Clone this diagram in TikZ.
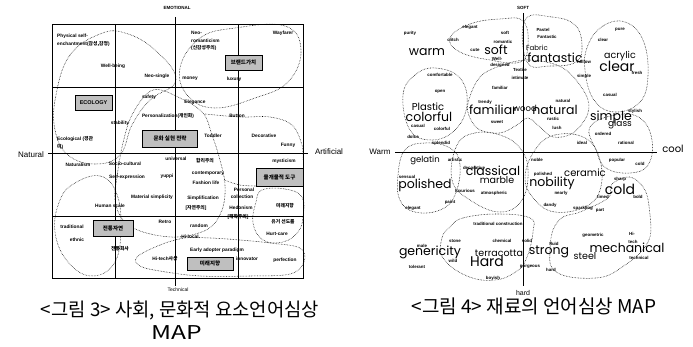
\documentclass[tikz,border=0pt]{standalone}
\usepackage{fontspec}
\setmainfont{Liberation Sans}
\newfontfamily\kr{Noto Sans CJK KR}
\newfontfamily\geo{Poppins}
\tikzset{
  lt/.style={inner sep=0pt,font=\fontsize{4.8}{5.4}\selectfont\bfseries},
  rs/.style={inner sep=0pt,font=\fontsize{4.4}{4.8}\selectfont\bfseries},
  big/.style={inner sep=0pt,font=\geo\fontsize{12.5}{12.5}\selectfont},
  mid/.style={inner sep=0pt,font=\geo\fontsize{8.5}{8.5}\selectfont},
  axl/.style={inner sep=0pt,font=\fontsize{8}{8}\selectfont},
  axs/.style={inner sep=0pt,font=\fontsize{4.5}{4.5}\selectfont\bfseries},
  captxt/.style={inner sep=0pt,font=\kr\fontsize{19}{19}\selectfont},
  shadebox/.style={draw,line width=0.7pt,fill=black!25,inner sep=0pt,font=\kr\fontsize{5.5}{5.5}\selectfont\bfseries},
  blob/.style={draw,densely dotted,line width=0.55pt},
  gridline/.style={line width=0.6pt}
}
\begin{document}
\begin{tikzpicture}[x=1pt,y=-1pt]
\useasboundingbox (0,0) rectangle (693,347);
\fill[white] (0,0) rectangle (693,347);
% ================= LEFT FIGURE =================
\draw[gridline] (52,24) rectangle (303,278);
\draw[gridline] (115,24) -- (115,278);
\draw[gridline] (238,24) -- (238,278);
\draw[gridline] (52,87) -- (303,87);
\draw[gridline] (52,216) -- (303,216);
\coordinate (vt) at (175,17);
\coordinate (vb) at (175,286);
\coordinate (hl) at (48,153);
\coordinate (hr) at (308,153);
\draw[gridline] (vt) -- (vb);
\draw[gridline] (hl) -- (hr);
\node[axs] (emo) at (177,8) {EMOTIONAL};
\node[axs,font=\fontsize{5}{5}\selectfont] (tec) at (178,290) {Technical};
\node[axl] (nat) at (31,155) {Natural};
\node[axl] (art) at (329,152) {Artificial};
% blobs
\draw[blob] plot[smooth cycle,tension=0.7] coordinates {(56,95) (70,55) (100,34) (125,33) (155,50) (176,80) (150,100) (132,125) (120,155) (95,164) (68,155) (55,130)};
\draw[blob] plot[smooth cycle,tension=0.7] coordinates {(180,68) (200,38) (235,28) (285,26) (301,50) (288,82) (255,98) (215,108) (188,96)};
\draw[blob] plot[smooth cycle,tension=0.6] coordinates {(153,90) (180,98) (203,113) (212,135) (220,160) (225,185) (222,210) (208,229) (177,237) (143,232) (123,220) (115,200) (117,177) (123,143) (133,113)};
\draw[blob] plot[smooth,tension=0.6] coordinates {(205,114) (240,117) (270,117) (292,125) (302,145) (303,160)};
\draw[blob] plot[smooth,tension=0.6] coordinates {(224,180) (240,185) (256,186)};
\draw[blob] plot[smooth cycle,tension=0.7] coordinates {(262,190) (285,189) (302,197) (303,217) (298,232) (283,242) (263,240) (253,223) (256,202)};
\draw[blob] plot[smooth cycle,tension=0.7] coordinates {(75,183) (100,176) (116,192) (121,225) (115,262) (92,276) (68,262) (55,232) (60,200)};
\draw[blob] plot[smooth cycle,tension=0.6] coordinates {(137,257) (160,245) (185,238) (210,238) (240,240) (270,243) (300,248) (304,262) (290,274) (250,276) (200,276) (160,271) (140,266)};
% labels
\node[lt,anchor=west] (p1) at (57,36) {Physical self-};
\node[lt,anchor=west] (p2) at (57,44) {enchantment({\kr 감성,감정})};
\node[lt] (wb) at (113,66) {Well-being};
\node[lt] (ns) at (157,76) {Neo-single};
\node[lt,anchor=west] (nr1) at (191,33) {Neo-};
\node[lt,anchor=west] (nr2) at (191,41) {romanticism};
\node[lt,anchor=west] (nr3) at (191,48) {({\kr 신감성주의})};
\node[lt] (wf) at (283,33) {Wayfarer};
\node[shadebox,minimum width=37pt,minimum height=15pt] (bv) at (243.5,62.5) {브랜드가치};
\node[lt] (mo) at (190,79) {money};
\node[lt] (lu) at (234,79) {luxury};
\node[shadebox,minimum width=37pt,minimum height=15pt,font=\fontsize{5.5}{5.5}\selectfont\bfseries] (eco) at (93.5,102.5) {ECOLOGY};
\node[lt] (sa) at (149,97) {safety};
\node[lt] (el) at (195,102) {Elegance};
\node[lt] (pe) at (168,116) {Personalization({\kr 개인화})};
\node[lt] (bu) at (237,116) {Button};
\node[lt] (st) at (120,123) {stability};
\node[lt,anchor=west] (ec1) at (57,139) {Ecological ({\kr 경관}};
\node[lt,anchor=west] (ec2) at (57,147) {{\kr 미})};
\node[shadebox,minimum width=55pt,minimum height=17pt] (cs) at (170,138.5) {문화 실현 전략};
\node[lt] (td) at (213,136) {Toddler};
\node[lt] (de) at (264,136) {Decorative};
\node[lt] (fu) at (288,145) {Funny};
\node[lt] (na) at (78,165) {Naturalism};
\node[lt] (sc) at (125,164) {Socio-cultural};
\node[lt] (un) at (176,159) {universal};
\node[lt] (ha) at (205,161) {{\kr 합리주의}};
\node[lt] (my) at (284,161) {mysticism};
\node[lt] (se) at (127,177) {Self-expression};
\node[lt] (yu) at (167,176) {yuppi};
\node[lt] (cf) at (208,173) {contemporary};
\node[lt] (fl) at (206,183) {Fashion life};
\node[shadebox,minimum width=47pt,minimum height=18pt] (md) at (279.5,177.5) {물개물적 도구};
\node[lt] (pc1) at (244,190) {Personal};
\node[lt] (pc2) at (242,197) {collection};
\node[lt] (sf) at (203,198) {Simplification};
\node[lt] (ms) at (152,197) {Material simplicity};
\node[lt] (hs) at (110,206) {Human scale};
\node[lt] (ja) at (196,208) {[{\kr 자연주의}]};
\node[lt] (he) at (241,208) {Hedonism};
\node[lt] (mr) at (285,206) {{\kr 미래지향}};
\node[lt] (mj) at (238,217) {[{\kr 해학주의}]};
\node[lt] (yg) at (283,222) {{\kr 유거 선도를}};
\node[lt] (tr) at (72,227) {traditional};
\node[shadebox,minimum width=40pt,minimum height=16pt] (tn) at (113,228.5) {전통자연};
\node[lt] (ki) at (165,222) {Retro};
\node[lt] (rd) at (199,226) {random};
\node[lt] (hc) at (277,234) {Hurt-care};
\node[lt] (et) at (77,240) {ethnic};
\node[lt] (gs) at (190,237) {Hi-local};
\node[lt] (ea) at (217,250) {Early adopter paradigm};
\node[lt] (jt) at (120,249) {{\kr 전통회사}};
\node[lt] (ht) at (165,259) {Hi-tech{\kr 사상}};
\node[shadebox,minimum width=46pt,minimum height=13pt] (mf) at (210,263.5) {미래지향};
\node[lt] (in) at (247,259) {innovator};
\node[lt] (pf) at (285,260) {perfection};
\node[captxt,font=\kr\fontsize{18.8}{18.8}\selectfont] (c3a) at (180,311) {<그림 3> 사회, 문화적 요소언어심상};
\node[captxt] (c3b) at (177,333) {\scalebox{1.3}[1]{MAP}};
% ================= RIGHT FIGURE =================
\coordinate (rt) at (523,13);
\coordinate (rb) at (523,286);
\coordinate (rl) at (395,152);
\coordinate (rr) at (657,152);
\draw[line width=0.6pt] (rt) -- (rb);
\draw[line width=0.6pt] (rl) -- (rr);
\node[axs] (soft) at (523,8) {SOFT};
\node[inner sep=0pt,font=\fontsize{7}{7}\selectfont] (hard) at (523,293) {hard};
\node[axl] (warm) at (380,152) {Warm};
\node[inner sep=0pt,font=\geo\fontsize{10}{10}\selectfont] (cool) at (673,149) {cool};
% blobs
\draw[blob] plot[smooth cycle,tension=0.7] coordinates {(450,38) (470,24) (500,19) (523,21) (528,45) (520,62) (490,60) (460,52)};
\draw[blob] plot[smooth cycle,tension=0.7] coordinates {(525,20) (552,17) (575,25) (582,45) (576,62) (550,66) (527,62)};
\draw[blob] plot[smooth cycle,tension=0.7] coordinates {(588,45) (603,26) (625,22) (643,40) (648,75) (640,102) (615,112) (594,100) (585,70)};
\draw[blob] plot[smooth cycle,tension=0.7] coordinates {(403,95) (415,75) (435,68) (460,78) (467,105) (455,130) (432,140) (410,130)};
\draw[blob] plot[smooth cycle,tension=0.6] coordinates {(468,103) (480,77) (503,65) (530,60) (563,68) (585,93) (588,113) (573,133) (553,137) (540,127) (528,118) (517,125) (500,133) (480,130) (470,118)};
\draw[blob] plot[smooth cycle,tension=0.7] coordinates {(590,127) (615,115) (640,118) (652,140) (648,165) (630,173) (606,168) (596,150)};
\draw[blob] plot[smooth cycle,tension=0.7] coordinates {(457,145) (475,133) (500,135) (520,148) (528,170) (522,200) (500,212) (470,200) (452,180)};
\draw[blob] plot[smooth cycle,tension=0.7] coordinates {(398,175) (405,150) (425,143) (450,148) (460,165) (455,195) (440,210) (415,212) (400,200)};
\draw[blob] plot[smooth cycle,tension=0.7] coordinates {(535,150) (555,135) (585,138) (600,160) (600,190) (585,207) (555,212) (535,200) (525,178)};
\draw[blob] plot[smooth cycle,tension=0.6] coordinates {(580,212) (608,198) (612,184) (630,177) (645,190) (650,215) (650,237) (640,253) (625,265) (603,277) (570,277) (552,268) (550,250) (553,230) (563,217)};
\draw[blob] plot[smooth cycle,tension=0.7] coordinates {(450,227) (463,218) (497,214) (530,218) (533,232) (527,257) (517,271) (495,280) (467,276) (443,258) (442,238)};
% big words
\node[big] (w1) at (427,52) {warm};
\node[big] (w2) at (496,50) {soft};
\node[mid,font=\geo\fontsize{7}{7}\selectfont] (w3) at (537,48) {Fabric};
\node[big] (w4) at (555,58) {fantastic};
\node[mid,font=\geo\fontsize{9.5}{9.5}\selectfont] (w5) at (620,56) {acrylic};
\node[big,font=\geo\fontsize{14}{14}\selectfont] (w6) at (617,66) {clear};
\node[mid,font=\geo\fontsize{10}{10}\selectfont] (w7) at (428,107) {Plastic};
\node[big] (w8) at (429,117) {colorful};
\node[big] (w9) at (493,110) {familiar};
\node[mid] (w10) at (525,108) {wood};
\node[big] (w11) at (555,110) {natural};
\node[big] (w12) at (611,117) {simple};
\node[mid,font=\geo\fontsize{9}{9}\selectfont] (w13) at (620,124) {glass};
\node[mid] (w14) at (425,160) {gelatin};
\node[big] (w15) at (493,171) {classical};
\node[mid,font=\geo\fontsize{9.5}{9.5}\selectfont] (w16) at (497,180) {marble};
\node[big] (w17) at (425,185) {polished};
\node[mid,font=\geo\fontsize{10}{10}\selectfont] (w18) at (585,173) {ceramic};
\node[big] (w19) at (552,183) {nobility};
\node[big,font=\geo\fontsize{14}{14}\selectfont] (w20) at (620,189) {cold};
\node[big] (w21) at (430,252) {genericity};
\node[mid,font=\geo\fontsize{9.5}{9.5}\selectfont] (w22) at (499,253) {terracotta};
\node[big,font=\geo\fontsize{14}{14}\selectfont] (w23) at (487,261) {Hard};
\node[big] (w24) at (549,252) {strong};
\node[mid,font=\geo\fontsize{9.5}{9.5}\selectfont] (w25) at (585,256) {steel};
\node[big] (w26) at (627,248) {mechanical};
% small words
\node[rs] (s1) at (410,33) {purity};
\node[rs] (s2) at (470,27) {elegant};
\node[rs] (s3) at (453,40) {clitch};
\node[rs] (s4) at (505,33) {soft};
\node[rs] (s5) at (503,42) {romantic};
\node[rs] (s6) at (475,50) {cute};
\node[rs] (s7) at (497,59) {Well-};
\node[rs] (s8) at (500,65.5) {designed};
\node[rs] (s9) at (520,70) {Textile};
\node[rs] (s10) at (520,78) {intimate};
\node[rs] (s11) at (440,75) {comfortable};
\node[rs] (s12) at (440,92) {open};
\node[rs] (s13) at (500,88) {familiar};
\node[rs] (s14) at (485,102) {trendy};
\node[rs] (s15) at (497,122) {sweet};
\node[rs] (s16) at (418,126) {casual};
\node[rs] (s17) at (442,129) {colorful};
\node[rs] (s18) at (413,137) {dolce};
\node[rs] (s19) at (441,143) {splendid};
\node[rs] (s20) at (543,30) {Pastel};
\node[rs] (s21) at (547,37) {Fantastic};
\node[rs] (s22) at (620,30) {pure};
\node[rs] (s23) at (603,40) {clear};
\node[rs] (s24) at (584,62) {hollow};
\node[rs] (s25) at (584,76) {simple};
\node[rs] (s26) at (637,73) {fresh};
\node[rs] (s27) at (610,95) {casual};
\node[rs] (s28) at (563,101) {natural};
\node[rs] (s29) at (553,119) {rustic};
\node[rs] (s30) at (557,128) {lush};
\node[rs] (s31) at (635,111) {stylish};
\node[rs] (s32) at (603,134) {ordered};
\node[rs] (s33) at (582,143) {ideal};
\node[rs] (s34) at (626,143) {rational};
\node[rs] (s35) at (455,160) {artistic};
\node[rs] (s36) at (474,168) {decorative};
\node[rs] (s37) at (407,177) {sensual};
\node[rs] (s38) at (465,191) {luxurious};
\node[rs] (s39) at (494,193) {atmospheric};
\node[rs] (s40) at (450,202) {paint};
\node[rs] (s41) at (413,208) {elegant};
\node[rs] (s42) at (537,160) {noble};
\node[rs] (s43) at (617,160) {popular};
\node[rs] (s44) at (640,164) {cold};
\node[rs] (s45) at (543,174) {polished};
\node[rs] (s46) at (620,179) {sharp};
\node[rs] (s47) at (561,193) {nearly};
\node[rs] (s48) at (603,197) {timed};
\node[rs] (s49) at (638,197) {bold};
\node[rs] (s50) at (550,205) {dandy};
\node[rs] (s51) at (583,208) {sparkling};
\node[rs] (s52) at (600,211) {part};
\node[rs] (s53) at (593,235) {geometric};
\node[rs] (s54) at (632,234) {Hi-};
\node[rs] (s55) at (633,242) {tech};
\node[rs] (s56) at (639,258) {technical};
\node[rs] (s57) at (498,224) {traditional construction};
\node[rs] (s58) at (455,241) {stone};
\node[rs] (s59) at (502,241) {chemical};
\node[rs] (s60) at (527,241) {solid};
\node[rs] (s61) at (453,261) {wild};
\node[rs] (s62) at (422,246) {male};
\node[rs] (s63) at (417,267) {tolerant};
\node[rs] (s64) at (530,267) {gorgeous};
\node[rs] (s65) at (493,278) {boyish};
\node[rs] (s66) at (551,270) {hard};
\node[rs] (s67) at (554,244) {fluid};
\node[captxt] (c4) at (534,306) {<그림 4> 재료의 언어심상 MAP};
\end{tikzpicture}
\end{document}
